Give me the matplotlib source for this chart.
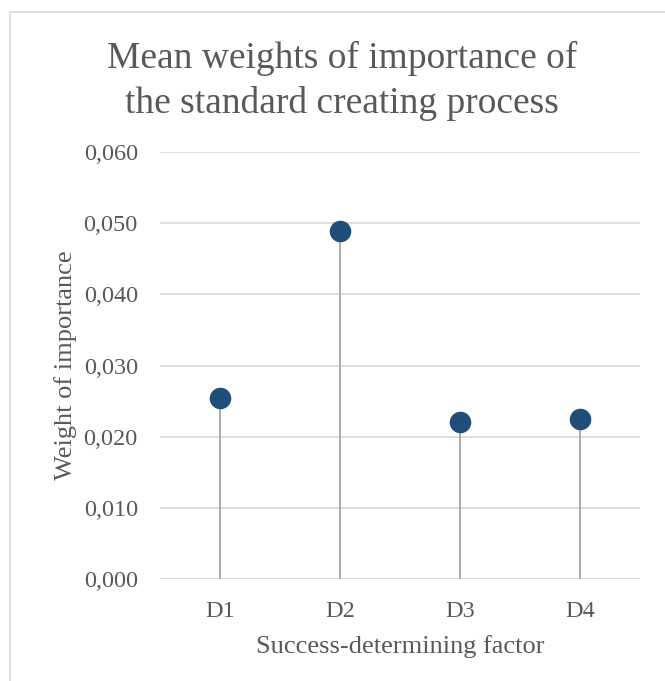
import numpy as np
import matplotlib.pyplot as plt
from matplotlib.patches import Rectangle
from matplotlib.ticker import FuncFormatter

factors = ["D1", "D2", "D3", "D4"]
weights = [0.0254, 0.0489, 0.0221, 0.0225]

text_col = "#595959"
grid_col = "#D9D9D9"
stem_col = "#A6A6A6"
dot_col = "#1F4E79"

plt.rcParams['font.family'] = ['Liberation Serif', 'DejaVu Serif']

W, H = 665, 681
fig = plt.figure(figsize=(W / 100, H / 100), dpi=100)

# chart frame, runs off the right and bottom edges
fig.patches.append(Rectangle((10 / W, -0.1), 1.2, 1 - 12 / H + 0.1,
                             transform=fig.transFigure, fill=False,
                             edgecolor=grid_col, linewidth=1.2))

ax = fig.add_axes([160 / W, (H - 579) / H, 480 / W, (579 - 152) / H])
x = np.arange(len(factors))
ax.vlines(x, 0, weights, color=stem_col, linewidth=1.3, zorder=2)
ax.plot(x, weights, "o", color=dot_col, markersize=14.5, zorder=3)

ax.set_xlim(-0.5, len(factors) - 0.5)
ax.set_ylim(0, 0.06)
ax.set_yticks(np.arange(0, 0.0601, 0.01))
ax.yaxis.set_major_formatter(FuncFormatter(lambda v, p: f"{v:.3f}".replace(".", ",")))
ax.set_xticks(x)
ax.set_xticklabels(factors)
ax.grid(axis="y", color=grid_col, linewidth=1.2, zorder=1)
ax.set_axisbelow(True)
for s in ax.spines.values():
    s.set_visible(False)
ax.tick_params(length=0, labelsize=17.5, colors=text_col)
ax.tick_params(axis="y", pad=16)
ax.tick_params(axis="x", pad=16)

ax.set_xlabel("Success-determining factor", fontsize=19, color=text_col, labelpad=9)
ax.set_ylabel("Weight of importance", fontsize=19, color=text_col, labelpad=5)

fig.text(342 / W, 1 - 81 / H, "Mean weights of importance of\nthe standard creating process",
         ha="center", va="center", fontsize=27, color=text_col, linespacing=1.35)

fig.savefig("out.png", dpi=100)
